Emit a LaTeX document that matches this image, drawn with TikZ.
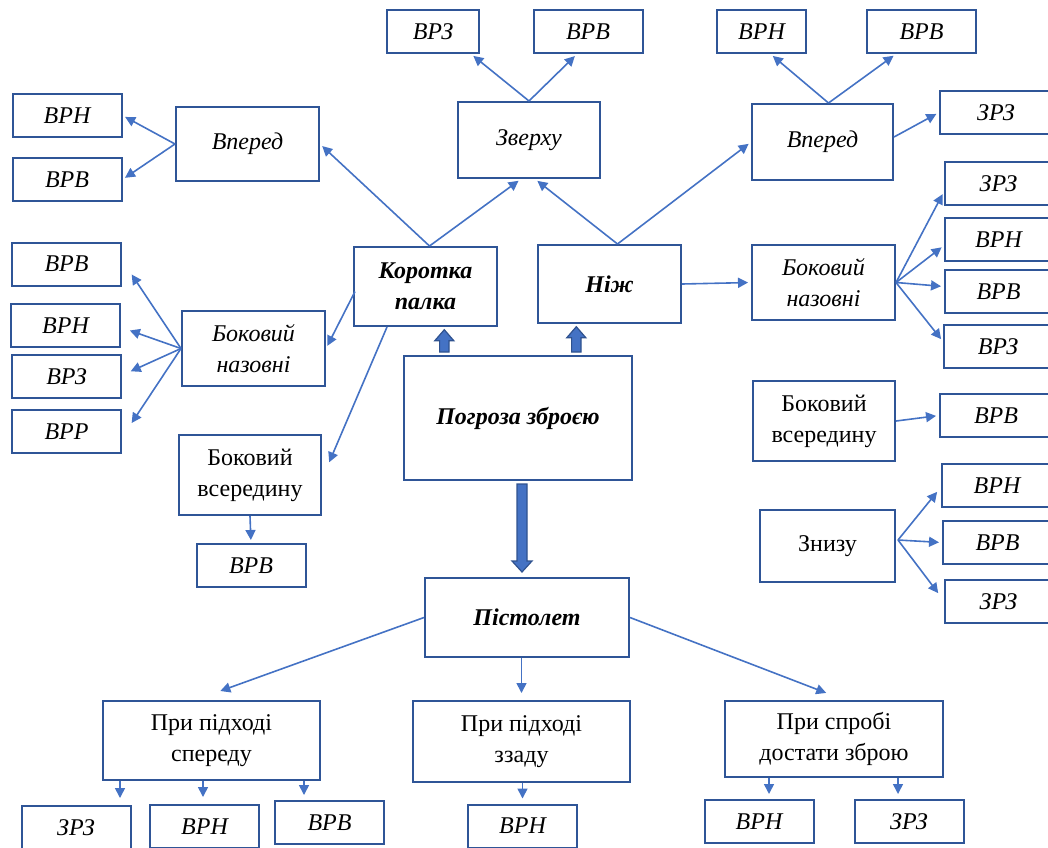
\documentclass[tikz,border=0pt]{standalone}
\usepackage{fontspec}
\setmainfont{Liberation Serif}
\usepackage{tikz}
\usetikzlibrary{arrows.meta,calc}

\definecolor{boxblue}{HTML}{2F5597}
\definecolor{arrowblue}{HTML}{4472C4}
\definecolor{blockdark}{HTML}{2F528F}

\tikzset{
  leaf/.style={draw=boxblue, line width=1pt, font=\itshape, minimum width=54.5pt, minimum height=21.5pt, inner sep=0pt},
  mid/.style={draw=boxblue, line width=1pt, minimum width=71.5pt, minimum height=37.5pt, align=center, inner sep=0pt},
  arr/.style={draw=arrowblue, line width=0.8pt, -{Triangle[length=5pt,width=5pt]}, shorten >=1.5pt},
  blockarr/.style={fill=arrowblue, draw=blockdark, line width=0.6pt},
}

\begin{document}
\fontsize{12}{15.5}\selectfont
\begin{tikzpicture}[x=0.5pt, y=-0.5pt]
\useasboundingbox (0,0) rectangle (1048,847);

% left part
\node[leaf] (lt1) at (67,115.5) {ВРН};
\node[leaf] (lt2) at (67,179.5) {ВРВ};
\node[mid, font=\itshape, minimum height=37pt] (vl) at (247.5,144) {Вперед};
\node[leaf] (lm1) at (66.5,264) {ВРВ};
\node[leaf] (lm2) at (65.5,325.5) {ВРН};
\node[leaf] (lm3) at (66.5,376.5) {ВРЗ};
\node[leaf] (lm4) at (66.5,431.5) {ВРР};
\node[mid, font=\itshape] (bnl) at (253.5,348.5) {Боковий\\назовні};
\node[mid, minimum width=71pt, minimum height=40pt] (bvl) at (250,475) {Боковий\\всередину};
\node[leaf] (bvl1) at (251,565.5) {ВРВ};

% centre
\node[mid, font=\bfseries\itshape, minimum height=39.5pt] (kp) at (425.5,286.5) {Коротка\\палка};
\node[mid, font=\bfseries\itshape, minimum height=39pt] (nizh) at (609.5,284) {Ніж};
\node[mid, font=\bfseries\itshape, minimum width=114pt, minimum height=62pt] (pz) at (518,418) {Погроза зброєю};
\node[mid, font=\bfseries\itshape, minimum width=102pt, minimum height=39.5pt] (pist) at (527,617.5) {Пістолет};

% top
\node[mid, font=\itshape, minimum width=71pt, minimum height=38pt] (zv) at (529,140) {Зверху};
\node[leaf, minimum width=46pt] (zv1) at (433,31.5) {ВРЗ};
\node[leaf] (zv2) at (588,31.5) {ВРВ};
\node[mid, font=\itshape, minimum width=70.5pt, minimum height=38pt] (vr) at (822.5,142) {Вперед};
\node[leaf, minimum width=44.5pt] (vr1) at (761.5,31.5) {ВРН};
\node[leaf] (vr2) at (921.5,31.5) {ВРВ};
\node[leaf, minimum width=56pt] (vr3) at (996,112.5) {ЗРЗ};

% right part
\node[mid, font=\itshape] (bnr) at (823.5,282.5) {Боковий\\назовні};
\node[leaf, minimum width=53.5pt] (bnr1) at (998.5,183.5) {ЗРЗ};
\node[leaf, minimum width=53.5pt] (bnr2) at (998.5,239.5) {ВРН};
\node[leaf, minimum width=53.5pt] (bnr3) at (998.5,291.5) {ВРВ};
\node[leaf, minimum width=54pt] (bnr4) at (998,346.5) {ВРЗ};
\node[mid, minimum width=71pt, minimum height=40pt] (bvr) at (824,421) {Боковий\\всередину};
\node[leaf, minimum width=56pt] (bvr1) at (996,415.5) {ВРВ};
\node[mid, minimum width=67.5pt, minimum height=36pt] (zn) at (827.5,546) {Знизу};
\node[leaf, minimum width=55pt] (zn1) at (997,485.5) {ВРН};
\node[leaf, minimum width=54.5pt] (zn2) at (997.5,542.5) {ВРВ};
\node[leaf, minimum width=53.5pt] (zn3) at (998.5,601.5) {ЗРЗ};

% bottom
\node[mid, minimum width=108.5pt, minimum height=39.5pt] (ps) at (211.5,740.5) {При підході\\спереду};
\node[mid, minimum width=108.5pt, minimum height=40.5pt] (pzz) at (521.5,741.5) {При підході\\ззаду};
\node[mid, minimum width=109pt, minimum height=38pt] (pd) at (834,739) {При спробі\\достати зброю};
\node[leaf] (ps1) at (76,827.5) {ЗРЗ};
\node[leaf] (ps2) at (204.5,826.5) {ВРН};
\node[leaf] (ps3) at (329.5,822.5) {ВРВ};
\node[leaf] (pzz1) at (522.5,826) {ВРН};
\node[leaf] (pd1) at (759,821.5) {ВРН};
\node[leaf] (pd2) at (909,821.5) {ЗРЗ};

% thin arrows
\draw[arr] (vl.west) -- (lt1.east);
\draw[arr] (vl.west) -- (lt2.east);
\draw[arr] ($(kp.north)+(4,0)$) -- (vl.east);
\draw[arr] ($(kp.north)+(4,0)$) -- ($(zv.south)+(-8,0)$);
\draw[arr] ($(nizh.north)+(8,0)$) -- ($(zv.south)+(6,0)$);
\draw[arr] ($(nizh.north)+(8,0)$) -- (vr.west);
\draw[arr] (zv.north) -- ($(zv1.south east)+(-9,0)$);
\draw[arr] (zv.north) -- ($(zv2.south)+(-11,0)$);
\draw[arr] ($(vr.north)+(6,0)$) -- ($(vr1.south)+(9,0)$);
\draw[arr] ($(vr.north)+(6,0)$) -- ($(vr2.south west)+(30,0)$);
\draw[arr] ($(vr.east)+(0,-5)$) -- (vr3.west);
\draw[arr] (nizh.east) -- (bnr.west);
\draw[arr] (bnr.east) -- ($(bnr1.west)+(0,8)$);
\draw[arr] (bnr.east) -- ($(bnr2.west)+(0,6)$);
\draw[arr] (bnr.east) -- ($(bnr3.west)+(0,-5)$);
\draw[arr] (bnr.east) -- ($(bnr4.west)+(0,-5)$);
\draw[arr] (bvr.east) -- (bvr1.west);
\draw[arr] ($(zn.east)+(2,-6)$) -- ($(zn1.west)+(-2,4)$);
\draw[arr] ($(zn.east)+(2,-6)$) -- (zn2.west);
\draw[arr] ($(zn.east)+(2,-6)$) -- ($(zn3.west)+(-4,-6)$);
\draw[arr] ($(kp.west)+(2,5)$) -- (bnl.east);
\draw[arr] ($(kp.south west)+(34,0)$) -- ($(bvl.east)+(6,-10)$);
\draw[arr] (bnl.west) -- ($(lm1.east)+(8,8)$);
\draw[arr] (bnl.west) -- ($(lm2.east)+(6,4)$);
\draw[arr] (bnl.west) -- ($(lm3.east)+(6,-4)$);
\draw[arr] (bnl.west) -- ($(lm4.east)+(8,-6)$);
\draw[arr] (bvl.south) -- (bvl1.north);
\draw[arr] (pist.west) -- ($(ps.north)+(6,-8)$);
\draw[arr] (pist.south -| pzz.north) -- ($(pzz.north)+(0,-4)$);
\draw[arr] (pist.east) -- ($(pd.north)+(-5,-6)$);

\coordinate (c1) at ($(ps.south west)+(18,0)$);
\coordinate (c2) at ($(ps.south west)+(101,0)$);
\coordinate (c3) at ($(ps.south east)+(-17,0)$);
\coordinate (c4) at ($(pzz.south)+(1,0)$);
\coordinate (c5) at ($(pd.south west)+(45,0)$);
\coordinate (c6) at ($(pd.south east)+(-46,0)$);
\draw[arr] (c1) -- ($(c1 |- ps1.north)+(0,-4)$);
\draw[arr] (c2) -- ($(c2 |- ps2.north)+(0,-4)$);
\draw[arr] (c3) -- ($(c3 |- ps3.north)+(0,-2)$);
\draw[arr] (c4) -- ($(c4 |- pzz1.north)+(0,-2)$);
\draw[arr] (c5) -- ($(c5 |- pd1.north)+(0,-2)$);
\draw[arr] (c6) -- ($(c6 |- pd2.north)+(0,-2)$);

% block arrows
\coordinate (ua) at ($(pz.north west)+(41.3,-3)$);
\coordinate (ub) at ($(ua |- kp.south)+(0,2.7)$);
\filldraw[blockarr] ($(ua)+(-4.7,0)$) -- ($(ub)+(-4.7,11)$) -- ($(ub)+(-9.5,11)$) -- (ub)
  -- ($(ub)+(9.5,11)$) -- ($(ub)+(4.7,11)$) -- ($(ua)+(4.7,0)$) -- cycle;
\coordinate (va) at ($(pz.north west)+(173.3,-3)$);
\coordinate (vb) at ($(va |- nizh.south)+(0,2.7)$);
\filldraw[blockarr] ($(va)+(-4.7,0)$) -- ($(vb)+(-4.7,11)$) -- ($(vb)+(-9.5,11)$) -- (vb)
  -- ($(vb)+(9.5,11)$) -- ($(vb)+(4.7,11)$) -- ($(va)+(4.7,0)$) -- cycle;
\coordinate (wa) at ($(pz.south)+(4,3)$);
\coordinate (wb) at ($(wa |- pist.north)+(0,-5)$);
\filldraw[blockarr] ($(wa)+(-5,0)$) -- ($(wb)+(-5,-11)$) -- ($(wb)+(-10,-11)$) -- (wb)
  -- ($(wb)+(10,-11)$) -- ($(wb)+(5,-11)$) -- ($(wa)+(5,0)$) -- cycle;
\end{tikzpicture}
\end{document}
